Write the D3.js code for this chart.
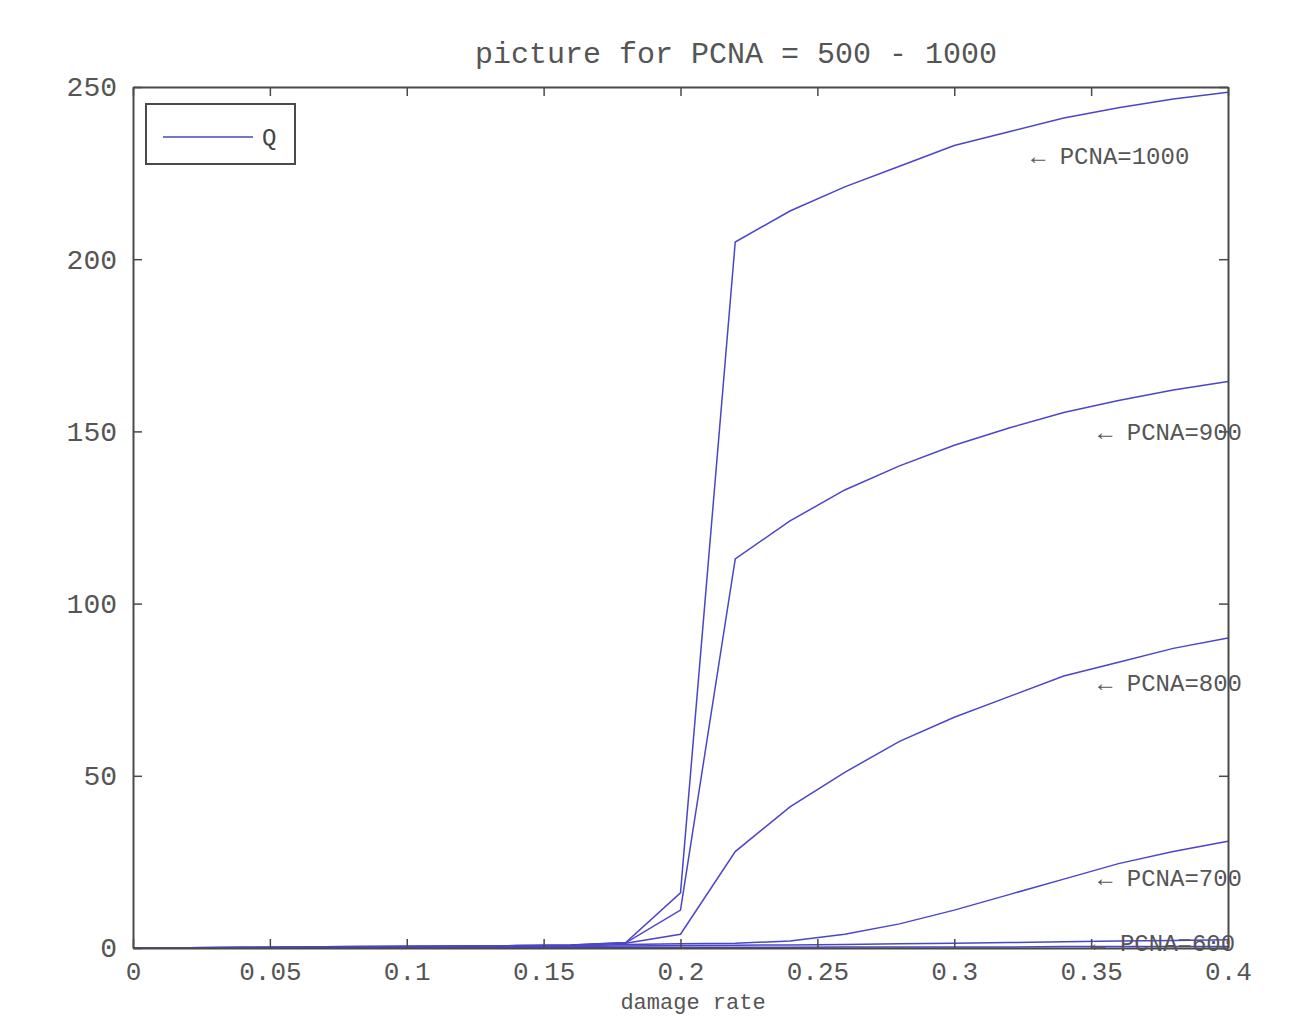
<!DOCTYPE html>
<html><head><meta charset="utf-8">
<script src="https://cdn.jsdelivr.net/npm/d3@7"></script>
<style>body{margin:0;background:#fff}text{font-family:"Liberation Mono","DejaVu Sans Mono",monospace}</style>
</head><body>
<svg id="c" width="1305" height="1016"></svg>
<script>
const xValues = [0,0.02,0.04,0.06,0.08,0.1,0.12,0.14,0.16,0.18,0.2,0.22,0.24,0.26,0.28,0.3,0.32,0.34,0.36,0.38,0.4];
const q1000 = [0,0.1,0.2,0.3,0.4,0.5,0.6,0.7,0.9,1.6,16,205,214,221,227,233,237,241,244,246.5,248.5];
const q900  = [0,0.1,0.2,0.3,0.4,0.5,0.6,0.7,0.9,1.5,11,113,124,133,140,146,151,155.5,159,162,164.5];
const q800  = [0,0.1,0.15,0.2,0.3,0.4,0.5,0.6,0.8,1.4,4,28,41,51,60,67,73,79,83,87,90];
const q700  = [0,0,0.1,0.1,0.2,0.3,0.4,0.5,0.6,1.0,1.2,1.4,2,4,7,11,15.5,20,24.5,28,31];
const q600  = [0,0,0,0.1,0.1,0.2,0.2,0.3,0.4,0.6,0.7,0.8,0.9,1.0,1.2,1.4,1.6,1.8,2.0,2.2,2.4];
const q500  = [0,0,0,0,0,0,0,0.1,0.1,0.2,0.2,0.2,0.2,0.3,0.3,0.3,0.3,0.4,0.4,0.4,0.4];
const seriesList = [q500,q600,q700,q800,q900,q1000];
const xTicks = [0,0.05,0.1,0.15,0.2,0.25,0.3,0.35,0.4];
const xTickLabels = ["0","0.05","0.1","0.15","0.2","0.25","0.3","0.35","0.4"];
const yTicks = [0,50,100,150,200,250];
const labels = [
  {x:0.328, y:230, t:"\u2190 PCNA=1000"},
  {x:0.3525, y:150, t:"\u2190 PCNA=900"},
  {x:0.3525, y:77, t:"\u2190 PCNA=800"},
  {x:0.3525, y:20.5, t:"\u2190 PCNA=700"},
  {x:0.35, y:1.5, t:"\u2190 PCNA=600"}
];
const title = "picture for PCNA = 500 - 1000";
const xLabel = "damage rate";
const legendLabel = "Q";

const L=133,R=1228,T=87,B=948;
const svg=d3.select("#c");
const x=d3.scaleLinear().domain([0,0.4]).range([L,R]);
const y=d3.scaleLinear().domain([0,250]).range([B,T]);
const axisColor="#4a4a4a", textColor="#555", lineColor="#4b45cc";

// lines
const line=d3.line().x((d,i)=>x(xValues[i])).y(d=>y(d));
svg.append("g").selectAll("path").data(seriesList).join("path")
  .attr("d",line).attr("fill","none").attr("stroke",lineColor).attr("stroke-width",1.5);

// axes (inward ticks, all four sides)
const tl=9;
const gb=svg.append("g").attr("transform",`translate(0,${B})`)
  .call(d3.axisBottom(x).tickValues(xTicks).tickSizeInner(-tl).tickSizeOuter(0).tickFormat((d,i)=>xTickLabels[i]).tickPadding(14));
const gt=svg.append("g").attr("transform",`translate(0,${T})`)
  .call(d3.axisTop(x).tickValues(xTicks).tickSizeInner(-tl).tickSizeOuter(0).tickFormat(""));
const gl=svg.append("g").attr("transform",`translate(${L},0)`)
  .call(d3.axisLeft(y).tickValues(yTicks).tickSizeInner(-tl).tickSizeOuter(0).tickPadding(16));
const gr=svg.append("g").attr("transform",`translate(${R},0)`)
  .call(d3.axisRight(y).tickValues(yTicks).tickSizeInner(-tl).tickSizeOuter(0).tickFormat(""));
[gb,gt,gl,gr].forEach(g=>{
  g.selectAll("path.domain").attr("stroke",axisColor).attr("stroke-width",2);
  g.selectAll(".tick line").attr("stroke",axisColor).attr("stroke-width",1.5);
  g.selectAll(".tick text").attr("fill",textColor).attr("font-size",28).attr("font-family","Liberation Mono");
});
gb.selectAll(".tick text").attr("font-size",26);
gl.selectAll(".tick text").attr("dy","0.32em");

// annotations
svg.append("g").selectAll("text").data(labels).join("text")
  .attr("x",d=>x(d.x)).attr("y",d=>y(d.y)).attr("dy","0.35em")
  .attr("font-size",24).attr("fill","#555").text(d=>d.t);

// title
svg.append("text").attr("x",736).attr("y",63).attr("text-anchor","middle")
  .attr("font-size",30).attr("fill","#555").text(title);
// x label
svg.append("text").attr("x",693).attr("y",1009).attr("text-anchor","middle")
  .attr("font-size",22).attr("fill","#555").text(xLabel);

// legend
const lg=svg.append("g");
lg.append("rect").attr("x",146).attr("y",104).attr("width",149).attr("height",60)
  .attr("fill","#fff").attr("stroke",axisColor).attr("stroke-width",2);
lg.append("line").attr("x1",163).attr("x2",253).attr("y1",137).attr("y2",137)
  .attr("stroke",lineColor).attr("stroke-width",1.5);
lg.append("text").attr("x",262).attr("y",137).attr("dy","0.35em").attr("font-size",24)
  .attr("fill","#444").text(legendLabel);
</script>
</body></html>
